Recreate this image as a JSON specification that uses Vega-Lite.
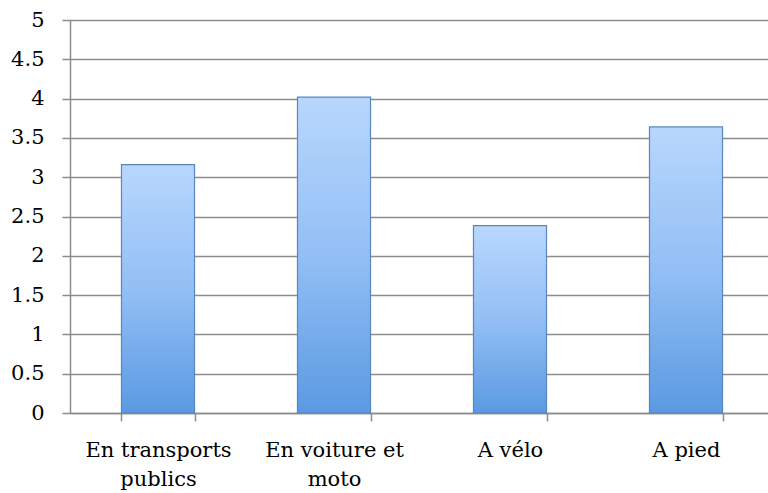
{
  "$schema": "https://vega.github.io/schema/vega-lite/v6.json",
  "width": 704,
  "height": 393,
  "autosize": {"type": "none"},
  "padding": {"left": 70, "top": 20, "right": 0, "bottom": 80},
  "background": "white",
  "config": {
    "view": {"stroke": null},
    "font": "DejaVu Serif",
    "axis": {
      "labelFont": "DejaVu Serif",
      "labelFontSize": 21,
      "labelColor": "#000000",
      "domainColor": "#8c8c8c",
      "domainWidth": 1.5,
      "tickColor": "#8c8c8c",
      "tickWidth": 1.5,
      "tickSize": 8,
      "gridColor": "#8c8c8c",
      "gridWidth": 1.5,
      "title": null
    }
  },
  "data": {
    "values": [
      {"mode": "En transports publics", "value": 3.16},
      {"mode": "En voiture et moto", "value": 4.02},
      {"mode": "A vélo", "value": 2.385},
      {"mode": "A pied", "value": 3.64}
    ]
  },
  "mark": {
    "type": "bar",
    "stroke": "#5a86be",
    "strokeWidth": 1.2,
    "color": {
      "gradient": "linear",
      "x1": 0, "y1": 0, "x2": 0, "y2": 1,
      "stops": [
        {"offset": 0, "color": "#b8d7fd"},
        {"offset": 0.5, "color": "#93bff5"},
        {"offset": 1, "color": "#5a9ae2"}
      ]
    }
  },
  "encoding": {
    "x": {
      "field": "mode",
      "type": "nominal",
      "sort": null,
      "scale": {"paddingInner": 0.585, "paddingOuter": 0.2925},
      "axis": {
        "labelAngle": 0,
        "labelPadding": 18,
        "tickBand": "extent",
        "grid": false,
        "labelLineHeight": 29,
        "labelBaseline": "top",
        "labelExpr": "datum.value == 'En transports publics' ? ['En transports', 'publics'] : datum.value == 'En voiture et moto' ? ['En voiture et', 'moto'] : datum.value"
      }
    },
    "y": {
      "field": "value",
      "type": "quantitative",
      "scale": {"domain": [0, 5], "nice": false},
      "axis": {
        "values": [0, 0.5, 1, 1.5, 2, 2.5, 3, 3.5, 4, 4.5, 5],
        "grid": true,
        "labelPadding": 18,
        "format": "~g"
      }
    }
  }
}
